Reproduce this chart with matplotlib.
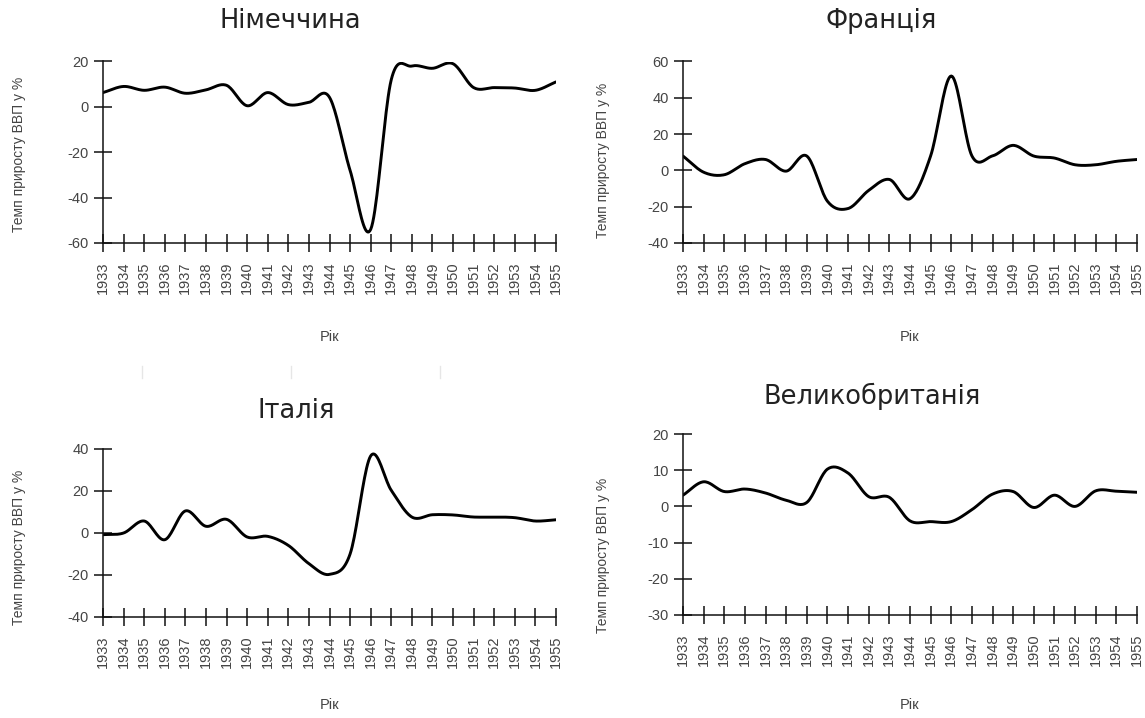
import numpy as np
import matplotlib
matplotlib.use('Agg')
import matplotlib.pyplot as plt
from matplotlib.lines import Line2D

# Data: GDP growth rate, %
years = list(range(1933, 1956))
germany = [6.3, 9.0, 7.3, 8.7, 6.0, 7.5, 9.5, 0.5, 6.3, 1.0, 2.0, 4.2,
           -28.0, -54.0, 12.0, 18.0, 17.0, 19.0, 8.5, 8.5, 8.3, 7.3, 11.0]
france = [7.9, -1.0, -2.4, 3.7, 6.0, -0.4, 7.9, -17.0, -21.0, -11.0, -5.0, -15.6,
          8.0, 52.0, 8.0, 8.0, 13.8, 7.9, 6.8, 3.1, 3.1, 5.0, 6.0]
italy = [-0.8, 0.0, 5.7, -3.2, 10.5, 3.2, 6.5, -1.9, -1.6, -5.9, -14.6, -19.7,
         -10.0, 36.7, 20.3, 7.6, 8.7, 8.6, 7.6, 7.6, 7.3, 5.7, 6.3]
uk = [3.1, 6.8, 4.1, 4.8, 3.7, 1.7, 1.1, 10.3, 9.2, 2.7, 2.5, -4.0,
      -4.2, -4.2, -0.9, 3.4, 4.1, -0.3, 3.1, 0.0, 4.3, 4.2, 3.9]

titles = ['Німеччина', 'Франція', 'Італія', 'Великобританія']
ylabel = 'Темп приросту ВВП у %'
xlabel = 'Рік'
ylims = [(-60, 20), (-40, 60), (-40, 40), (-30, 20)]
ysteps = [20, 20, 20, 10]

W, H = 1145, 718
fig = plt.figure(figsize=(W / 100, H / 100), dpi=100)


def catmull_rom(x, y, n=20):
    # smooth line drawn through the yearly points (cardinal spline, tension 0)
    x = np.asarray(x, float)
    y = np.asarray(y, float)
    m = np.zeros_like(y)
    m[1:-1] = (y[2:] - y[:-2]) / 2.0
    m[0] = y[1] - y[0]
    m[-1] = y[-1] - y[-2]
    xs, ys = [], []
    for i in range(len(x) - 1):
        t = np.linspace(0, 1, n, endpoint=False)
        h00 = 2 * t**3 - 3 * t**2 + 1
        h10 = t**3 - 2 * t**2 + t
        h01 = -2 * t**3 + 3 * t**2
        h11 = t**3 - t**2
        xs.append(x[i] + t * (x[i + 1] - x[i]))
        ys.append(h00 * y[i] + h10 * m[i] + h01 * y[i + 1] + h11 * m[i + 1])
    xs.append([x[-1]])
    ys.append([y[-1]])
    return np.concatenate(xs), np.concatenate(ys)


# pixel boxes: left, right, top, bottom
boxes = [(103, 556, 61.5, 243), (683, 1137, 61.5, 243),
         (103, 556, 449, 617), (683, 1137, 434, 615)]
title_pos = [(290, 21), (881, 21), (296, 411), (872, 396)]
ylab_pos = [(19, 154), (603, 160), (19, 547), (603, 555)]
xlab_pos = [(330, 337), (910, 337), (330, 705), (910, 705)]

series = [germany, france, italy, uk]
tick_color = '#444444'

for k in range(4):
    l, r, t, b = boxes[k]
    ax = fig.add_axes([l / W, (H - b) / H, (r - l) / W, (b - t) / H])
    sx, sy = catmull_rom(years, series[k])
    ax.plot(sx, sy, color='black', lw=2.1, solid_capstyle='round')
    ax.set_xlim(years[0], years[-1])
    ax.set_ylim(*ylims[k])
    ax.set_xticks(years)
    ax.set_xticklabels([str(y) for y in years], rotation=90,
                       family='Liberation Sans', fontsize=10.5, color=tick_color)
    yt = np.arange(ylims[k][0], ylims[k][1] + 1, ysteps[k])
    ax.set_yticks(yt)
    ax.set_yticklabels([str(v) for v in yt], family='Liberation Sans',
                       fontsize=10.5, color=tick_color)
    for s in ['top', 'right']:
        ax.spines[s].set_visible(False)
    for s in ['left', 'bottom']:
        ax.spines[s].set_linewidth(1.1)
        ax.spines[s].set_color('#111111')
    ax.tick_params(axis='both', direction='inout', length=12.5, width=1.1,
                   color='#111111')
    ax.tick_params(axis='x', pad=7)
    ax.tick_params(axis='y', pad=4)
    ax.patch.set_alpha(0)
    for sp in ax.spines.values():
        sp.set_clip_on(False)

    tx, ty = title_pos[k]
    fig.text(tx / W, 1 - ty / H, titles[k], ha='center', va='center',
             family='DejaVu Sans', fontsize=18.5, color='#222222')
    yx, yy = ylab_pos[k]
    fig.text(yx / W, 1 - yy / H, ylabel, ha='center', va='center',
             rotation=90, family='Liberation Sans', fontsize=10,
             color=tick_color)
    lx, ly = xlab_pos[k]
    fig.text(lx / W, 1 - ly / H, xlabel, ha='center', va='center',
             family='Liberation Sans', fontsize=10.5, color=tick_color)

# faint marks between the top and bottom rows
for px in [142, 290.5, 440]:
    fig.add_artist(Line2D([px / W, px / W], [1 - 366 / H, 1 - 378 / H],
                          color='#e6e6e6', lw=1))

fig.savefig('out.png', dpi=100, facecolor='white')
